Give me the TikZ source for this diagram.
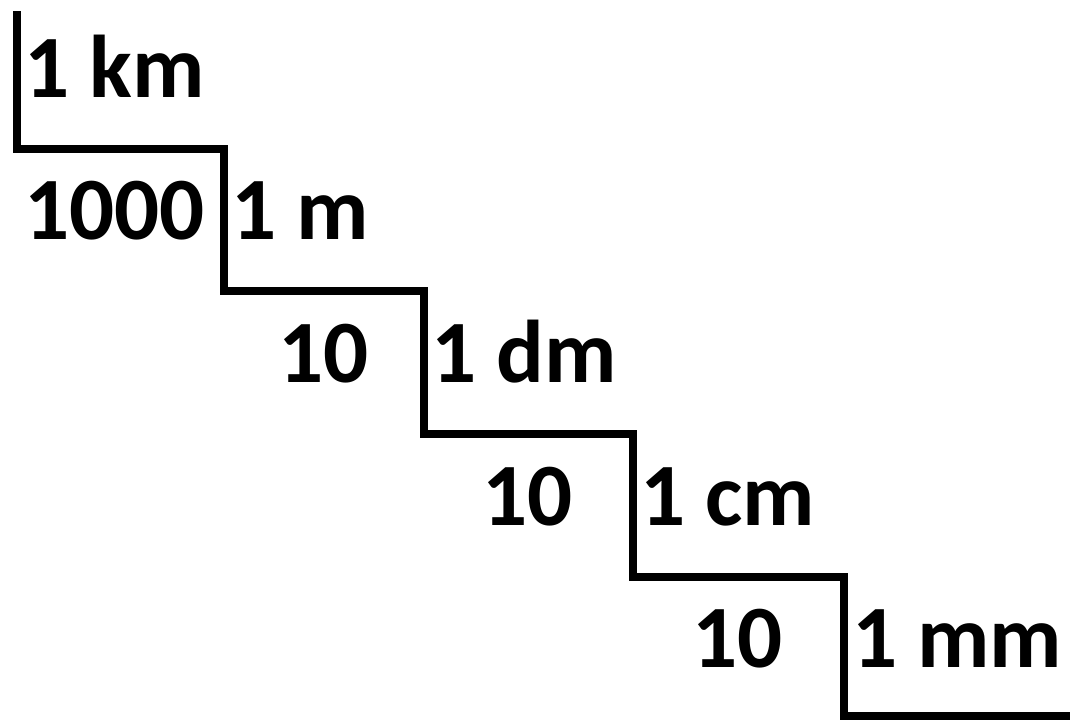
\documentclass[tikz,border=0pt]{standalone}
\usepackage{fontspec}
\setmainfont{Carlito}
\begin{document}
\begin{tikzpicture}[x=1pt,y=-1pt,
  lbl/.style={anchor=base west,inner sep=0pt,font=\bfseries\fontsize{89}{89}\selectfont},
  stair/.style={line width=8pt,line join=miter}]
\useasboundingbox (0,0) rectangle (1070,720);
\coordinate (s0) at (16.5,11);
\coordinate (s1) at (16.5,149);
\coordinate (s2) at (224,149);
\coordinate (s3) at (224,291);
\coordinate (s4) at (424,291);
\coordinate (s5) at (424,434);
\coordinate (s6) at (633,434);
\coordinate (s7) at (633,577);
\coordinate (s8) at (844,577);
\coordinate (s9) at (844,716);
\coordinate (s10) at (1075,716);
\draw[stair] (s0) -- (s1) -- (s2) -- (s3) -- (s4) -- (s5) -- (s6) -- (s7) -- (s8) -- (s9) -- (s10);
\node[lbl] (km) at (24,97) {1 km};
\node[lbl] (n1000) at (24,239) {1000};
\node[lbl] (m) at (231,239) {1 m};
\node[lbl] (n10a) at (278,382) {10};
\node[lbl] (dm) at (431,382) {1 dm};
\node[lbl] (n10b) at (482,525) {10};
\node[lbl] (cm) at (640,525) {1 cm};
\node[lbl] (n10c) at (692,667) {10};
\node[lbl] (mm) at (852,667) {1 mm};
\end{tikzpicture}
\end{document}
